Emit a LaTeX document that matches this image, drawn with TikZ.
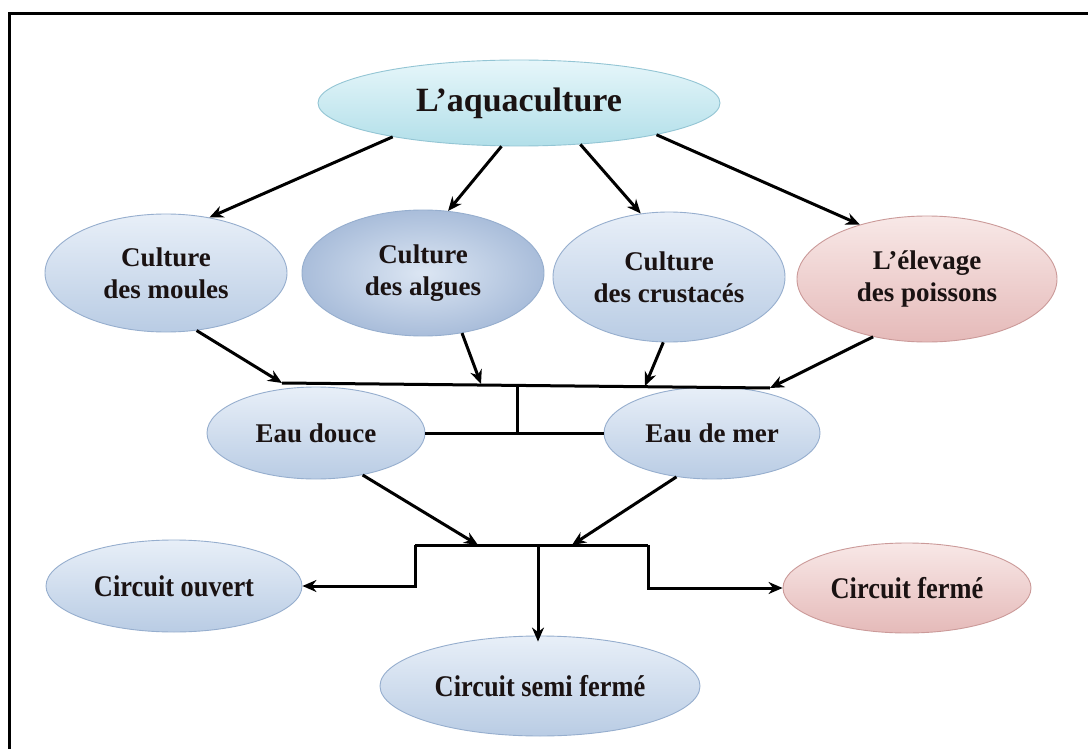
\documentclass[tikz,border=0pt]{standalone}
\usepackage{fontspec}
\setmainfont{Liberation Serif}
\newfontfamily\narrowserif[FakeStretch=0.88]{Liberation Serif}
\usetikzlibrary{shapes.geometric,arrows.meta}

\definecolor{bluetop}{HTML}{E8EFF8}
\definecolor{bluebot}{HTML}{B9CCE4}
\definecolor{blueedge}{HTML}{96AECE}
\definecolor{bluein}{HTML}{DCE6F3}
\definecolor{blueout}{HTML}{A9BDDA}
\definecolor{aquatop}{HTML}{E6F6FA}
\definecolor{aquabot}{HTML}{B2DFE9}
\definecolor{aquaedge}{HTML}{93C5D4}
\definecolor{pinktop}{HTML}{F8E8E7}
\definecolor{pinkbot}{HTML}{E5BAB9}
\definecolor{pinkedge}{HTML}{CB9A99}
\definecolor{inktext}{HTML}{1A1212}

\begin{document}
\begin{tikzpicture}[x=1pt,y=-1pt,
  oval/.style={ellipse, inner sep=0pt, align=center, text=inktext,
    font=\bfseries\fontsize{27}{32}\selectfont,
    draw=blueedge, line width=0.9pt, top color=bluetop, bottom color=bluebot},
  darkoval/.style={oval, inner color=bluein, outer color=blueout},
  aquaoval/.style={oval, draw=aquaedge, top color=aquatop, bottom color=aquabot,
    font=\bfseries\fontsize{34}{40}\selectfont},
  pinkoval/.style={oval, draw=pinkedge, top color=pinktop, bottom color=pinkbot},
  narrow/.style={font=\narrowserif\bfseries\fontsize{30}{34}\selectfont},
  link/.style={line width=3pt, -{Stealth[length=14pt,width=12pt]}},
  wire/.style={line width=3pt}
]
\useasboundingbox (0,0) rectangle (1088,749);
\fill[white] (0,0) rectangle (1088,749);
% outer frame
\draw[line width=3pt] (9,749) -- (9,13.5) -- (1088,13.5);

% top node
\node[aquaoval, minimum width=402pt, minimum height=86pt] (aqua) at (519,103) {L'aquaculture};

% kinds of culture
\node[oval, minimum width=242pt, minimum height=118pt] (moules) at (166,273) {Culture\\des moules};
\node[darkoval, minimum width=242pt, minimum height=126pt] (algues) at (423,273) {Culture\\des algues};
\node[oval, minimum width=232pt, minimum height=130pt] (crust) at (669,277) {Culture\\des crustacés};
\node[pinkoval, minimum width=260pt, minimum height=126pt] (poiss) at (927,279) {L'élevage\\des poissons};

% water types
\node[oval, minimum width=218pt, minimum height=92pt] (douce) at (316,433) {Eau douce};
\node[oval, minimum width=216pt, minimum height=92pt] (mer) at (712,433) {Eau de mer};

% circuits
\node[oval, narrow, minimum width=256pt, minimum height=92pt] (ouvert) at (174,586) {Circuit ouvert};
\node[oval, narrow, minimum width=320pt, minimum height=100pt] (semi) at (540,686) {Circuit semi fermé};
\node[pinkoval, narrow, minimum width=248pt, minimum height=90pt] (ferme) at (907,588) {Circuit fermé};

% from the top node to the four cultures
\draw[link] (aqua.195) -- (moules.52);
\draw[link] (aqua.248) -- (algues.68);
\draw[link] (aqua.326) -- (crust.114);
\draw[link] (aqua.347) -- (poiss.141);

% first collecting bar
\coordinate (bL) at (282,383);
\coordinate (bA) at (481,384);
\coordinate (bM) at (517,385);
\coordinate (bC) at (645,386);
\coordinate (bR) at (770,388);
\draw[wire] (bL) -- (bR);
\draw[link] (moules.298) -- (bL);
\draw[link] (algues.303) -- (bA);
\draw[link] (crust.265) -- (bC);
\draw[link] (poiss.227) -- (bR);

% link to both water types
\draw[wire] (douce.east) -- (mer.west);
\draw[wire] (bM) -- (bM |- douce.east);

% second collecting bar
\coordinate (cL) at (415,545);
\coordinate (c1) at (478,545);
\coordinate (cM) at (538,545);
\coordinate (c2) at (572,545);
\coordinate (cR) at (648,545);
\draw[wire] (cL) -- (cR);
\draw[link] (douce.318) -- (c1);
\draw[link] (mer.231) -- (c2);

% branches to the circuits
\draw[link] (cL) -- (cL |- ouvert.east) -- (ouvert.east);
\draw[link] (cR) -- (cR |- ferme.west) -- (ferme.west);
\draw[link] (cM) -- ([yshift=-6pt]cM |- semi.north);
\end{tikzpicture}
\end{document}
